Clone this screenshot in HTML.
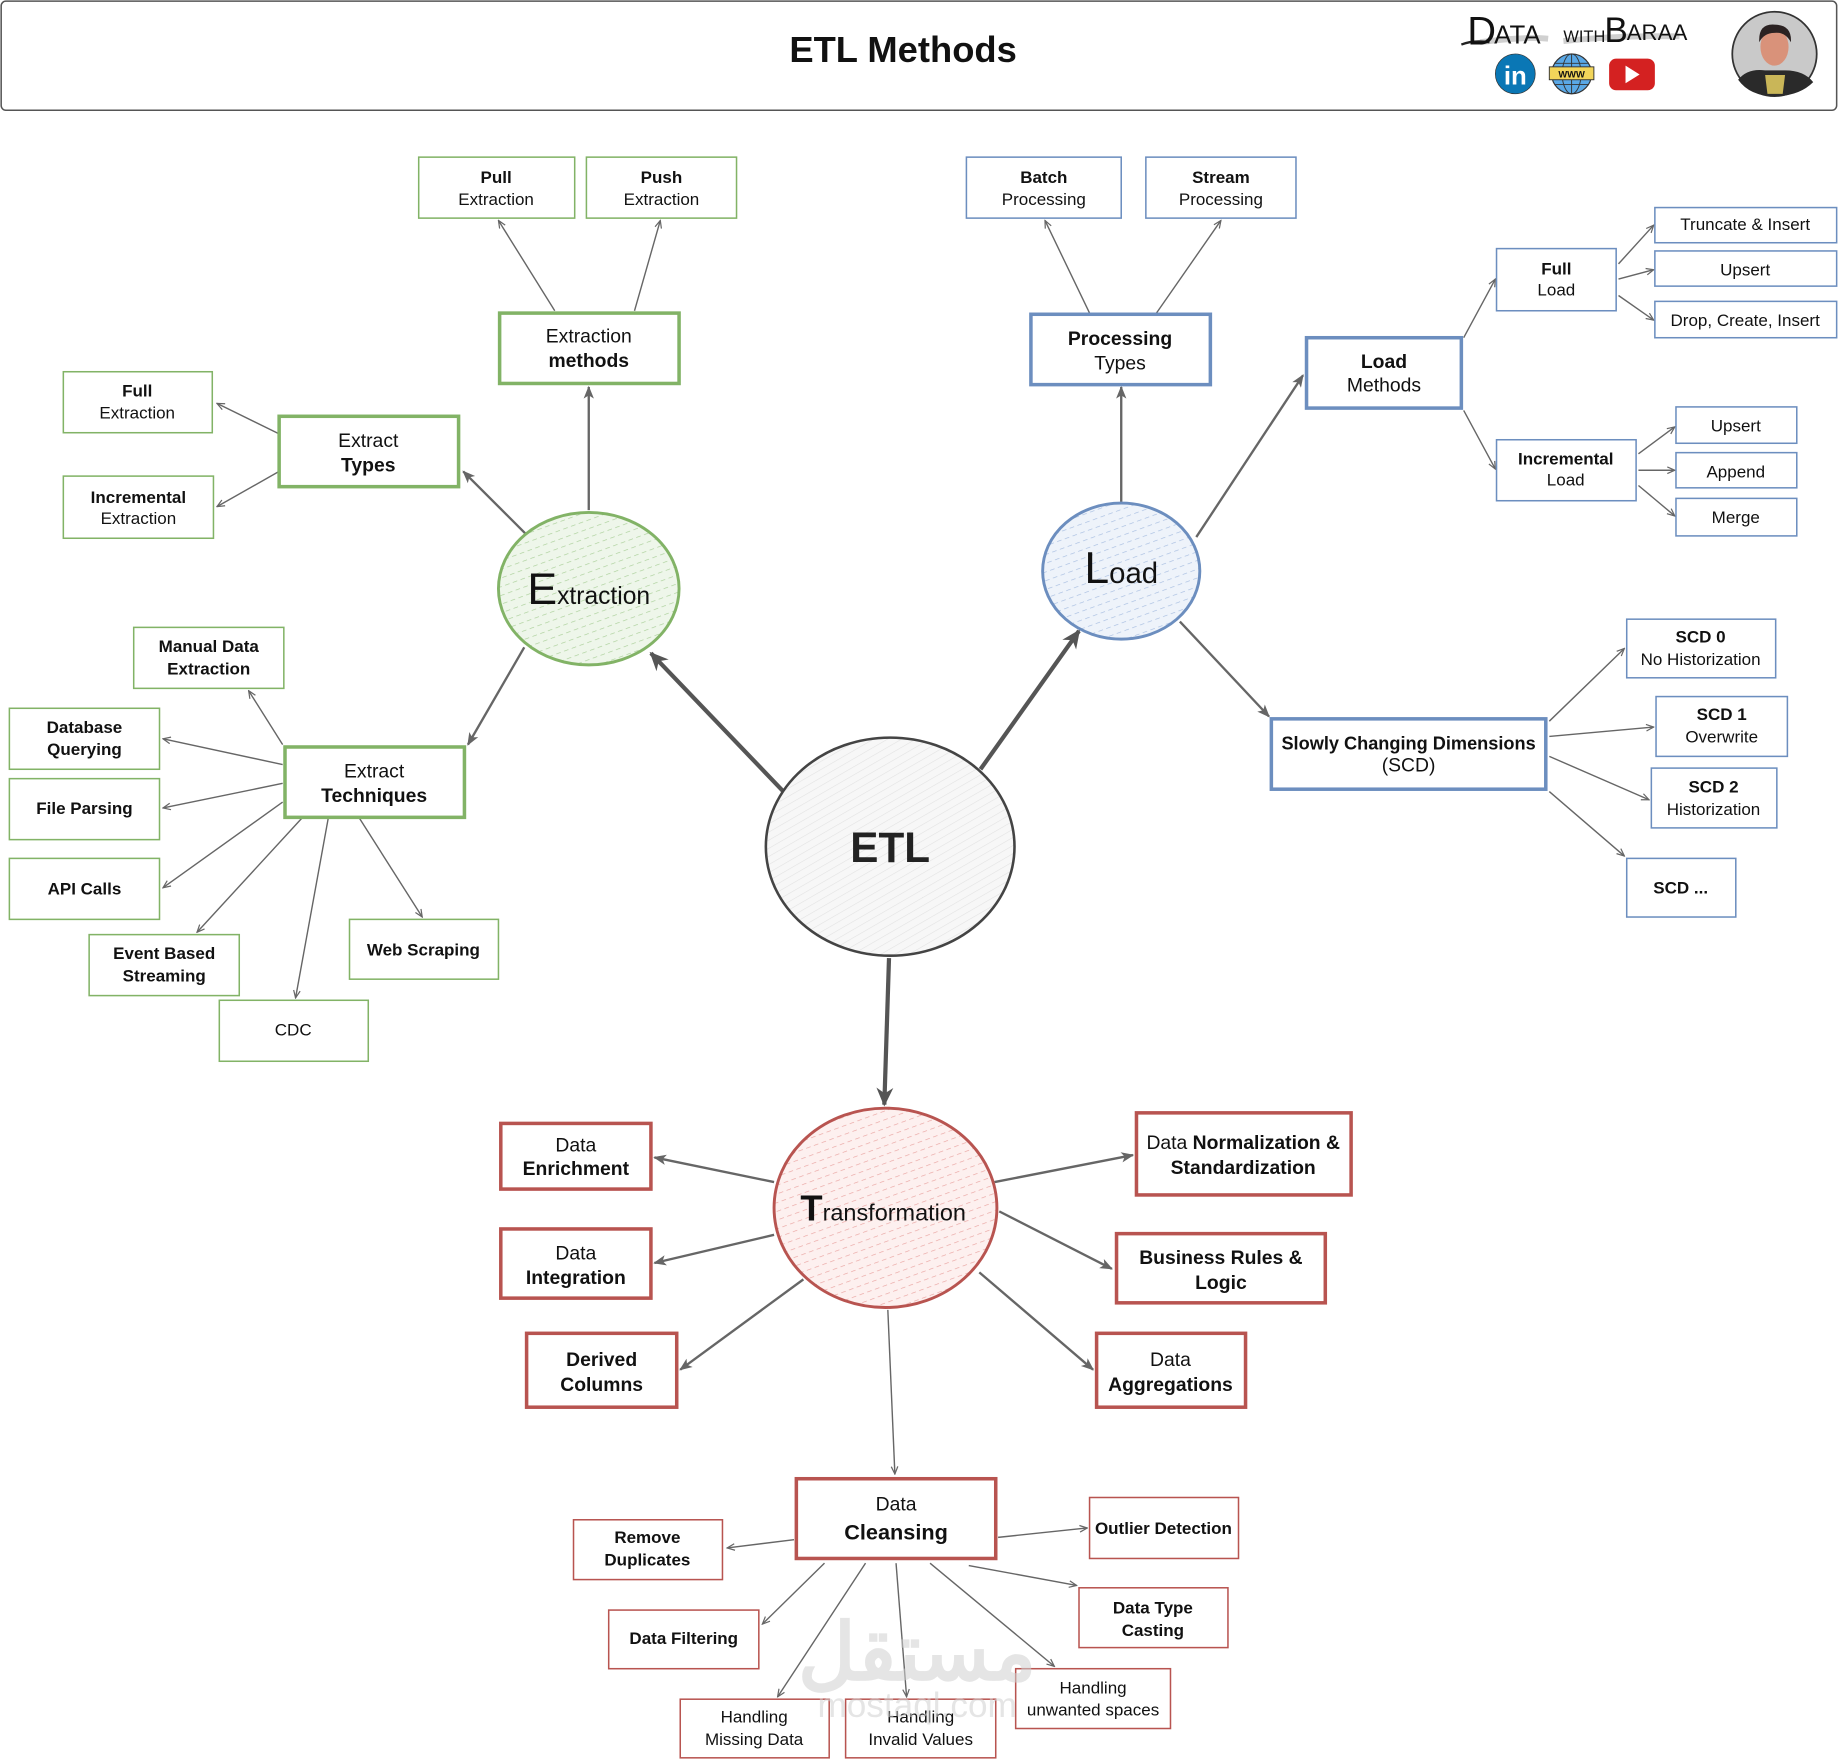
<!DOCTYPE html>
<html><head><meta charset="utf-8"><title>ETL Methods</title>
<style>
html,body{margin:0;padding:0;background:#fff;}
svg{display:block;}
text{font-family:"Liberation Sans","Noto Sans CJK SC",sans-serif;fill:#111;}
</style></head>
<body>
<svg width="1839" height="1759" viewBox="0 0 1568 1500" preserveAspectRatio="none" xmlns="http://www.w3.org/2000/svg">
<defs>
<marker id="a" viewBox="0 0 10 10" refX="9" refY="5" markerWidth="8" markerHeight="8" orient="auto" markerUnits="userSpaceOnUse"><path d="M1,1.5 L9,5 L1,8.5" fill="none" stroke="#666" stroke-width="1.3"/></marker>
<marker id="m" viewBox="0 0 10 10" refX="9" refY="5" markerWidth="11" markerHeight="11" orient="auto" markerUnits="userSpaceOnUse"><path d="M0,1 L10,5 L0,9 L2.5,5 Z" fill="#666"/></marker>
<marker id="b" viewBox="0 0 10 10" refX="9" refY="5" markerWidth="16" markerHeight="16" orient="auto" markerUnits="userSpaceOnUse"><path d="M0,0.5 L10,5 L0,9.5 L3,5 Z" fill="#555"/></marker>
<pattern id="hg" width="7" height="7" patternUnits="userSpaceOnUse" patternTransform="rotate(70)"><line x1="0" y1="0" x2="0" y2="4" stroke="#a9cf98" stroke-width="1.1"/></pattern>
<pattern id="hb" width="7" height="7" patternUnits="userSpaceOnUse" patternTransform="rotate(70)"><line x1="0" y1="0" x2="0" y2="4" stroke="#a6bde0" stroke-width="1.1"/></pattern>
<pattern id="hr" width="7" height="7" patternUnits="userSpaceOnUse" patternTransform="rotate(70)"><line x1="0" y1="0" x2="0" y2="4" stroke="#e9a3a0" stroke-width="1.1"/></pattern>
<pattern id="hk" width="6" height="6" patternUnits="userSpaceOnUse" patternTransform="rotate(60)"><line x1="0" y1="0" x2="0" y2="6" stroke="#e2e2e2" stroke-width="1"/></pattern>
</defs>

<!-- Header -->
<rect x="1" y="1" width="1565" height="93" rx="4" fill="#fff" stroke="#555" stroke-width="1.3"/>
<text x="770" y="53" font-size="31" font-weight="bold" text-anchor="middle">ETL Methods</text>

<!-- Logo -->
<path d="M1262,36 Q1300,31 1320,33 M1333,35 Q1380,30 1432,31" stroke="#d0d0d0" stroke-width="5" fill="none"/>
<path d="M1246,38 Q1256,34 1270,36" stroke="#222" stroke-width="2" fill="none"/>
<text x="1251" y="38" font-family="Liberation Sans Narrow, Liberation Sans, sans-serif" font-size="34">D</text>
<text x="1274" y="37" font-family="Liberation Sans Narrow, Liberation Sans, sans-serif" font-size="22">ATA</text>
<text x="1333" y="36" font-family="Liberation Sans Narrow, Liberation Sans, sans-serif" font-size="14">WITH</text>
<text x="1368" y="36" font-family="Liberation Sans Narrow, Liberation Sans, sans-serif" font-size="30">B</text>
<text x="1387" y="34" font-family="Liberation Sans Narrow, Liberation Sans, sans-serif" font-size="19">ARAA</text>
<circle cx="1292" cy="63" r="17" fill="#0a77b5" stroke="#333" stroke-width="0.6"/>
<text x="1292" y="72" font-size="22" font-weight="bold" text-anchor="middle" style="fill:#fff">in</text>
<circle cx="1340" cy="63" r="17" fill="#5aa8e6" stroke="#333" stroke-width="1"/>
<path d="M1323,63 H1357 M1340,46 V80 M1326,54 H1354 M1326,72 H1354" stroke="#333" stroke-width="0.8" fill="none"/>
<ellipse cx="1340" cy="63" rx="8" ry="17" fill="none" stroke="#333" stroke-width="0.8"/>
<rect x="1321" y="57" width="38" height="11" fill="#f2d55a" stroke="#333" stroke-width="0.8"/>
<text x="1340" y="66" font-size="8" font-weight="bold" text-anchor="middle">WWW</text>
<rect x="1372" y="50" width="39" height="27" rx="6" fill="#d42121"/>
<path d="M1386,56 L1398,63.5 L1386,71 Z" fill="#fff"/>
<circle cx="1513" cy="46" r="36" fill="#c9c9c9" stroke="#333" stroke-width="1.5"/>
<path d="M1482,68 Q1490,58 1505,60 L1522,60 Q1538,60 1546,70 Q1534,82 1513,82 Q1492,82 1482,68 Z" fill="#2a2a2a"/>
<path d="M1505,64 L1522,64 L1520,80 L1507,80 Z" fill="#c9b658"/>
<ellipse cx="1513" cy="40" rx="12" ry="16" fill="#d9927a"/>
<path d="M1500,36 Q1499,20 1513,21 Q1528,21 1527,36 Q1522,27 1513,28 Q1504,28 1500,36 Z" fill="#2b2222"/>

<!-- Connectors: thin -->
<g stroke="#666" stroke-width="1.2" fill="none" marker-end="url(#a)">
<line x1="473" y1="265" x2="425" y2="188"/>
<line x1="541" y1="265" x2="563" y2="188"/>
<line x1="238" y1="370" x2="185" y2="344"/>
<line x1="238" y1="402" x2="185" y2="432"/>
<line x1="241" y1="635" x2="212" y2="589"/>
<line x1="241" y1="652" x2="139" y2="630"/>
<line x1="241" y1="668" x2="139" y2="689"/>
<line x1="241" y1="684" x2="139" y2="757"/>
<line x1="258" y1="697" x2="168" y2="795"/>
<line x1="280" y1="697" x2="252" y2="851"/>
<line x1="306" y1="697" x2="360" y2="782"/>
<line x1="929" y1="267" x2="891" y2="188"/>
<line x1="986" y1="267" x2="1041" y2="188"/>
<line x1="1248" y1="288" x2="1275" y2="238"/>
<line x1="1248" y1="350" x2="1275" y2="400"/>
<line x1="1380" y1="225" x2="1410" y2="192"/>
<line x1="1380" y1="238" x2="1410" y2="230"/>
<line x1="1380" y1="252" x2="1410" y2="273"/>
<line x1="1397" y1="387" x2="1428" y2="364"/>
<line x1="1397" y1="401" x2="1428" y2="401"/>
<line x1="1397" y1="414" x2="1428" y2="440"/>
<line x1="1321" y1="615" x2="1385" y2="553"/>
<line x1="1321" y1="628" x2="1410" y2="620"/>
<line x1="1321" y1="645" x2="1406" y2="682"/>
<line x1="1321" y1="675" x2="1385" y2="730"/>
<line x1="757" y1="1117" x2="763" y2="1257"/>
<line x1="677" y1="1313" x2="620" y2="1320"/>
<line x1="851" y1="1311" x2="927" y2="1303"/>
<line x1="826" y1="1335" x2="918" y2="1352"/>
<line x1="703" y1="1333" x2="650" y2="1385"/>
<line x1="738" y1="1333" x2="663" y2="1447"/>
<line x1="764" y1="1333" x2="773" y2="1447"/>
<line x1="793" y1="1333" x2="899" y2="1421"/>
</g>
<!-- Connectors: medium -->
<g stroke="#666" stroke-width="2" fill="none" marker-end="url(#m)">
<line x1="502" y1="435" x2="502" y2="330"/>
<line x1="448" y1="455" x2="395" y2="402"/>
<line x1="447" y1="552" x2="399" y2="635"/>
<line x1="956" y1="428" x2="956" y2="330"/>
<line x1="1020" y1="458" x2="1111" y2="320"/>
<line x1="1006" y1="530" x2="1082" y2="611"/>
<line x1="660" y1="1008" x2="558" y2="987"/>
<line x1="660" y1="1053" x2="558" y2="1077"/>
<line x1="685" y1="1091" x2="580" y2="1168"/>
<line x1="848" y1="1008" x2="966" y2="985"/>
<line x1="852" y1="1033" x2="948" y2="1082"/>
<line x1="835" y1="1085" x2="932" y2="1168"/>
</g>
<!-- Connectors: thick -->
<g stroke="#555" stroke-width="3.6" fill="none" marker-end="url(#b)">
<line x1="668" y1="675" x2="555" y2="557"/>
<line x1="836" y1="656" x2="920" y2="538"/>
<line x1="758" y1="817" x2="754" y2="942"/>
</g>

<!-- Circles -->
<ellipse cx="502" cy="502" rx="77" ry="65" fill="#eef6ea"/>
<ellipse cx="502" cy="502" rx="77" ry="65" fill="url(#hg)" stroke="#82b366" stroke-width="2.5"/>
<ellipse cx="956" cy="487" rx="67" ry="58" fill="#eef3fa"/>
<ellipse cx="956" cy="487" rx="67" ry="58" fill="url(#hb)" stroke="#6c8ebf" stroke-width="2.5"/>
<ellipse cx="759" cy="722" rx="106" ry="93" fill="#f7f7f7"/>
<ellipse cx="759" cy="722" rx="106" ry="93" fill="url(#hk)" stroke="#444" stroke-width="2.2"/>
<ellipse cx="755" cy="1030" rx="95" ry="85" fill="#fdf0ef"/>
<ellipse cx="755" cy="1030" rx="95" ry="85" fill="url(#hr)" stroke="#b85450" stroke-width="2.5"/>

<text x="502" y="515" font-size="21" text-anchor="middle"><tspan font-size="38">E</tspan>xtraction</text>
<text x="956" y="497" font-size="25" text-anchor="middle"><tspan font-size="38">L</tspan>oad</text>
<text x="759" y="735" font-size="36" font-weight="bold" text-anchor="middle" style="fill:#222">ETL</text>
<text x="753" y="1041" font-size="20" text-anchor="middle"><tspan font-size="31" font-weight="bold">T</tspan>ransformation</text>

<!-- Green boxes -->
<g fill="#fff" stroke="#82b366" stroke-width="1.3">
<rect x="357" y="134" width="133" height="52"/>
<rect x="500" y="134" width="128" height="52"/>
<rect x="54" y="317" width="127" height="52"/>
<rect x="54" y="406" width="128" height="53"/>
<rect x="114" y="535" width="128" height="52"/>
<rect x="8" y="604" width="128" height="52"/>
<rect x="8" y="664" width="128" height="52"/>
<rect x="8" y="732" width="128" height="52"/>
<rect x="76" y="797" width="128" height="52"/>
<rect x="298" y="784" width="127" height="51"/>
<rect x="187" y="853" width="127" height="52"/>
</g>
<g fill="#fff" stroke="#82b366" stroke-width="3">
<rect x="426" y="267" width="153" height="60"/>
<rect x="238" y="355" width="153" height="60"/>
<rect x="243" y="637" width="153" height="60"/>
</g>

<!-- Blue boxes -->
<g fill="#fff" stroke="#6c8ebf" stroke-width="1.3">
<rect x="824" y="134" width="132" height="52"/>
<rect x="977" y="134" width="128" height="52"/>
<rect x="1276" y="212" width="102" height="53"/>
<rect x="1411" y="177" width="155" height="30"/>
<rect x="1411" y="214" width="155" height="30"/>
<rect x="1411" y="257" width="155" height="31"/>
<rect x="1276" y="375" width="119" height="52"/>
<rect x="1429" y="347" width="103" height="31"/>
<rect x="1429" y="386" width="103" height="30"/>
<rect x="1429" y="425" width="103" height="32"/>
<rect x="1387" y="528" width="127" height="50"/>
<rect x="1412" y="594" width="112" height="51"/>
<rect x="1408" y="655" width="107" height="51"/>
<rect x="1387" y="732" width="93" height="50"/>
</g>
<g fill="#fff" stroke="#6c8ebf" stroke-width="3">
<rect x="879" y="268" width="153" height="60"/>
<rect x="1114" y="288" width="132" height="60"/>
<rect x="1084" y="613" width="234" height="60"/>
</g>

<!-- Red boxes -->
<g fill="#fff" stroke="#b85450" stroke-width="3">
<rect x="427" y="958" width="128" height="56"/>
<rect x="427" y="1048" width="128" height="59"/>
<rect x="449" y="1137" width="128" height="63"/>
<rect x="969" y="949" width="183" height="70"/>
<rect x="952" y="1052" width="178" height="59"/>
<rect x="935" y="1137" width="127" height="63"/>
<rect x="679" y="1261" width="170" height="68"/>
</g>
<g fill="#fff" stroke="#b85450" stroke-width="1.3">
<rect x="489" y="1296" width="127" height="51"/>
<rect x="519" y="1373" width="128" height="50"/>
<rect x="580" y="1449" width="127" height="50"/>
<rect x="721" y="1449" width="128" height="50"/>
<rect x="866" y="1423" width="132" height="51"/>
<rect x="929" y="1277" width="127" height="52"/>
<rect x="920" y="1354" width="127" height="51"/>
</g>

<!-- Box texts -->
<g font-size="14.5" text-anchor="middle">
<text x="423" y="156" font-weight="bold">Pull</text><text x="423" y="175">Extraction</text>
<text x="564" y="156" font-weight="bold">Push</text><text x="564" y="175">Extraction</text>
<text x="117" y="338" font-weight="bold">Full</text><text x="117" y="357">Extraction</text>
<text x="118" y="429" font-weight="bold">Incremental</text><text x="118" y="447">Extraction</text>
<text x="178" y="556" font-weight="bold">Manual Data</text><text x="178" y="575" font-weight="bold">Extraction</text>
<text x="72" y="625" font-weight="bold">Database</text><text x="72" y="644" font-weight="bold">Querying</text>
<text x="72" y="694" font-weight="bold">File Parsing</text>
<text x="72" y="763" font-weight="bold">API Calls</text>
<text x="140" y="818" font-weight="bold">Event Based</text><text x="140" y="837" font-weight="bold">Streaming</text>
<text x="361" y="815" font-weight="bold">Web Scraping</text>
<text x="250" y="883">CDC</text>

<text x="890" y="156" font-weight="bold">Batch</text><text x="890" y="175">Processing</text>
<text x="1041" y="156" font-weight="bold">Stream</text><text x="1041" y="175">Processing</text>
<text x="1327" y="234" font-weight="bold">Full</text><text x="1327" y="252">Load</text>
<text x="1488" y="196">Truncate &amp; Insert</text>
<text x="1488" y="235">Upsert</text>
<text x="1488" y="278">Drop, Create, Insert</text>
<text x="1335" y="396" font-weight="bold">Incremental</text><text x="1335" y="414">Load</text>
<text x="1480" y="368">Upsert</text>
<text x="1480" y="407">Append</text>
<text x="1480" y="446">Merge</text>
<text x="1450" y="548" font-weight="bold">SCD 0</text><text x="1450" y="567">No Historization</text>
<text x="1468" y="614" font-weight="bold">SCD 1</text><text x="1468" y="633">Overwrite</text>
<text x="1461" y="676" font-weight="bold">SCD 2</text><text x="1461" y="695">Historization</text>
<text x="1433" y="762" font-weight="bold">SCD ...</text>

<text x="552" y="1316" font-weight="bold">Remove</text><text x="552" y="1335" font-weight="bold">Duplicates</text>
<text x="583" y="1402" font-weight="bold">Data Filtering</text>
<text x="643" y="1469">Handling</text><text x="643" y="1488">Missing Data</text>
<text x="785" y="1469">Handling</text><text x="785" y="1488">Invalid Values</text>
<text x="932" y="1444">Handling</text><text x="932" y="1463">unwanted spaces</text>
<text x="992" y="1308" font-weight="bold">Outlier Detection</text>
<text x="983" y="1376" font-weight="bold">Data Type</text><text x="983" y="1395" font-weight="bold">Casting</text>
</g>
<g font-size="16.5" text-anchor="middle">
<text x="502" y="292">Extraction</text><text x="502" y="313" font-weight="bold">methods</text>
<text x="314" y="381">Extract</text><text x="314" y="402" font-weight="bold">Types</text>
<text x="319" y="663">Extract</text><text x="319" y="684" font-weight="bold">Techniques</text>
<text x="955" y="294" font-weight="bold">Processing</text><text x="955" y="315">Types</text>
<text x="1180" y="314" font-weight="bold">Load</text><text x="1180" y="334">Methods</text>
<text x="1201" y="639" font-weight="bold" font-size="15.5">Slowly Changing Dimensions</text><text x="1201" y="658">(SCD)</text>
<text x="491" y="982">Data</text><text x="491" y="1002" font-weight="bold">Enrichment</text>
<text x="491" y="1074">Data</text><text x="491" y="1095" font-weight="bold">Integration</text>
<text x="513" y="1165" font-weight="bold">Derived</text><text x="513" y="1186" font-weight="bold">Columns</text>
<text x="1060" y="980">Data <tspan font-weight="bold">Normalization &amp;</tspan></text><text x="1060" y="1001" font-weight="bold">Standardization</text>
<text x="1041" y="1078" font-weight="bold">Business Rules &amp;</text><text x="1041" y="1099" font-weight="bold">Logic</text>
<text x="998" y="1165">Data</text><text x="998" y="1186" font-weight="bold">Aggregations</text>
<text x="764" y="1288">Data</text><text x="764" y="1313" font-weight="bold" font-size="18.5">Cleansing</text>
</g>

<!-- Watermark (on top) -->
<g opacity="0.55">
<text x="782" y="1432" font-size="68" font-weight="bold" text-anchor="middle" style="fill:#d0d0d0">مستقل</text>
<text x="782" y="1464" font-size="30" text-anchor="middle" style="fill:#d0d0d0">mostaql.com</text>
</g>
</svg>
</body></html>
